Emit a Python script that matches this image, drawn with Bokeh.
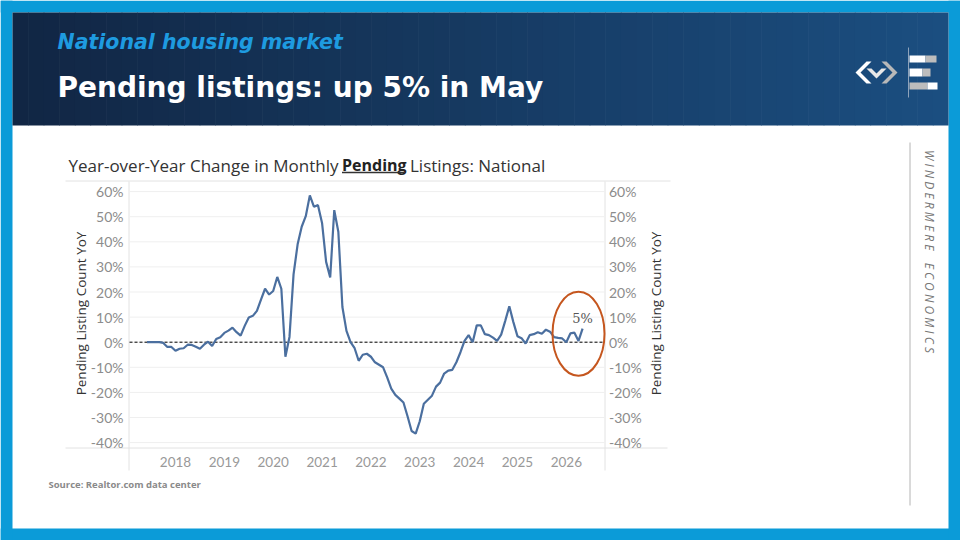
import math
import pandas as pd
from bokeh.plotting import figure
from bokeh.models import Range1d
from bokeh.core.properties import value
from bokeh.embed import file_html
from bokeh.resources import INLINE

# ---------------- data ----------------
months = pd.date_range("2017-06-01", "2026-05-01", freq="MS")
yoy_pct = [
    0.0, 0.0, 0.0, 0.0, -0.3, -1.9, -1.9, -3.4, -2.6, -2.4,
    -1.0, -1.1, -1.8, -2.6, -1.0, 0.2, -1.5, 1.3, 2.0, 3.7,
    4.6, 5.8, 4.0, 2.6, 6.5, 9.8, 10.5, 12.5, 17.0, 21.3,
    19.0, 20.4, 26.0, 21.3, -5.8, 2.1, 27.0, 39.0, 46.0, 50.2,
    58.5, 54.0, 54.6, 47.5, 32.0, 25.8, 52.6, 44.0, 14.0, 4.5,
    0.0, -2.4, -7.4, -5.0, -4.6, -5.8, -8.0, -9.0, -10.0, -14.0,
    -18.5, -21.0, -22.5, -24.0, -29.5, -35.4, -36.4, -31.5, -24.5, -22.9,
    -21.3, -17.7, -16.1, -12.5, -11.3, -11.0, -8.0, -4.0, 0.5, 2.8,
    0.0, 6.7, 6.7, 3.2, 2.8, 1.8, 0.5, 3.0, 8.5, 14.3,
    8.0, 2.4, 1.6, -0.5, 2.8, 3.2, 4.0, 3.4, 5.0, 4.2,
    2.0, 1.7, 1.5, 0.0, 3.5, 3.8, 0.5, 5.4,
]
year_ticks = [2018, 2019, 2020, 2021, 2022, 2023, 2024, 2025, 2026]
pct_ticks = [-40, -30, -20, -10, 0, 10, 20, 30, 40, 50, 60]
pct_labels = ["%d%%" % t for t in pct_ticks]
year_labels = [str(t) for t in year_ticks]
callout_text = "5%"

header_kicker = "National housing market"
header_title = "Pending listings: up 5% in May"
title_a = "Year-over-Year Change in Monthly"
title_b = "Pending"
title_c = "Listings: National"
axis_title = "Pending Listing Count YoY"
source_text = "Source: Realtor.com data center"
brand_text = "W I N D E R M E R E \u2002 E C O N O M I C S"

# ---------------- layout (pixels) ----------------
W, H = 960, 540
FL, FR, FT, FB = 128, 605, 181, 447          # chart plotting area
X0PX, PX_PER_YR = 175.0, 48.85               # pixel of Jan 2018, pixels per year
ZPX, PX_PER_PCT = 341.7, 2.51                # pixel of 0 %, pixels per percent

x = [m.year + (m.month - 1) / 12 for m in months]

BLUE = "#0b9bd8"
LINE = "#4b6f9f"
GRID = "#efefef"
SEP = "#e2e2e2"
TICK = "#8c8c8c"

p = figure(width=W, height=H, x_range=Range1d(0, W), y_range=Range1d(H, 0),
           output_backend="svg", toolbar_location=None,
           x_axis_location=None, y_axis_location=None, min_border=0,
           background_fill_color="white", border_fill_color="white",
           outline_line_color=None)
p.grid.visible = False

# chart scales: years across, percent up
p.extra_x_ranges = {"yr": Range1d(2018 - X0PX / PX_PER_YR, 2018 + (W - X0PX) / PX_PER_YR)}
p.extra_y_ranges = {"pct": Range1d((ZPX - H) / PX_PER_PCT, ZPX / PX_PER_PCT)}

def seg(x0, y0, x1, y1, color, width=1, dash="solid"):
    p.segment(x0=[x0], y0=[y0], x1=[x1], y1=[y1], line_color=color,
              line_width=width, line_dash=dash)

def txt(px, py, text, size, color, font="Open Sans", style="normal",
        align="left", baseline="middle", angle=0.0):
    p.text(x=[px], y=[py], text=[text], text_font=value(font), text_font_size=size,
           text_font_style=style, text_color=color, text_align=align,
           text_baseline=baseline, angle=angle)

# ---------------- frame & header ----------------
p.quad(left=[0, 0, 0, 948], right=[W, W, 12, W], top=[0, 528, 0, 0],
       bottom=[12, H, H, H], fill_color=BLUE, line_color=None)

c0 = (17, 38, 68)
c1 = (27, 78, 128)
n = 60
lefts, rights, cols = [], [], []
for i in range(n):
    f = i / (n - 1)
    cols.append("#%02x%02x%02x" % tuple(int(round(a + (b - a) * f)) for a, b in zip(c0, c1)))
    lefts.append(12 + 936 * i / n)
    rights.append(min(948, 12 + 936 * (i + 1) / n + 0.6))
p.quad(left=lefts, right=rights, top=[12] * n, bottom=[125] * n,
       fill_color=cols, line_color=None)

txt(57, 41.5, header_kicker, "20.5px", "#1e9be0", font="DejaVu Sans", style="bold italic")
txt(57, 87, header_title, "28px", "white", font="DejaVu Sans", style="bold")

# logo marks
p.patch([855, 866, 871, 860, 871, 866], [72, 61, 61, 72, 83, 83], fill_color="#ffffff", line_color=None)
p.patch([897, 886, 881, 892, 881, 886], [72, 61, 61, 72, 83, 83], fill_color="#b8b8b8", line_color=None)
p.patch([866, 871, 876, 881, 886, 876], [68, 68, 73, 68, 68, 78], fill_color="#e8e8e8", line_color=None)
seg(908, 47, 908, 97, "#8ea3bb")
p.quad(left=[909, 925, 909, 922, 909, 927], right=[925, 936, 922, 930, 927, 937],
       top=[55, 55, 68, 68, 82, 82], bottom=[62, 62, 76, 76, 89, 89],
       fill_color=["#ffffff", "#bdbdbd", "#ffffff", "#bdbdbd", "#bdbdbd", "#ffffff"],
       line_color=None)

# ---------------- chart ----------------
txt(338, 164.5, title_a, "17px", "#333333", align="right")
txt(341.5, 164.5, title_b, "16px", "#222222", style="bold")
seg(341.5, 172, 404, 172, "#333333", 1.3)
txt(409.5, 164.5, title_c, "17px", "#333333")

seg(65, 180.5, 670, 180.5, SEP)
seg(65, 447.5, 667, 447.5, SEP)
seg(128.5, 181, 128.5, 470, SEP)
seg(604.5, 181, 604.5, 470, SEP)

# gridlines and zero line on the percent scale
p.segment(x0=[FL + 1] * len(pct_ticks), x1=[FR - 1] * len(pct_ticks),
          y0=pct_ticks, y1=pct_ticks, y_range_name="pct",
          line_color=GRID, line_width=1)
p.segment(x0=[FL + 1], x1=[FR - 1], y0=[0], y1=[0], y_range_name="pct",
          line_color="black", line_width=1, line_dash="3 2")

# tick labels
p.text(x=[123] * len(pct_ticks), y=pct_ticks, text=pct_labels, y_range_name="pct",
       text_font=value("Lato"), text_font_size="14px", text_color=TICK,
       text_align="right", text_baseline="middle")
p.text(x=[608.5] * len(pct_ticks), y=pct_ticks, text=pct_labels, y_range_name="pct",
       text_font=value("Lato"), text_font_size="14px", text_color=TICK,
       text_align="left", text_baseline="middle")
p.text(x=year_ticks, y=[461] * len(year_ticks), text=year_labels, x_range_name="yr",
       text_font=value("Lato"), text_font_size="13.5px", text_color="#999999",
       text_align="center", text_baseline="middle")

# axis titles
txt(80, 313, axis_title, "13.5px", "#333333", align="center", angle=math.pi / 2)
txt(655, 313, axis_title, "13.5px", "#333333", align="center", angle=math.pi / 2)

# series
p.line(x, yoy_pct, x_range_name="yr", y_range_name="pct", line_color=LINE, line_width=2.2)

# call-out on latest value
p.ellipse(x=[x[-1] - 1 / 12], y=[yoy_pct[-1] - 2], width=52, height=84,
          width_units="screen", height_units="screen", x_range_name="yr",
          y_range_name="pct", fill_color=None, line_color="#c5561e", line_width=2)
p.text(x=[x[-1]], y=[yoy_pct[-1] + 4], text=[callout_text], x_range_name="yr",
       y_range_name="pct", text_align="center", text_baseline="middle",
       text_font=value("DejaVu Serif"), text_font_size="13px", text_color="#555555")

# source
txt(48, 483.7, source_text, "9.5px", "#8a8a8a", style="bold")

# right brand strip
seg(909.5, 142, 909.5, 505, "#b4b4b4")
txt(929, 251, brand_text, "12px", "#777777", style="italic", align="center",
    angle=-math.pi / 2)

open("out.html", "w").write(file_html(p, INLINE))
